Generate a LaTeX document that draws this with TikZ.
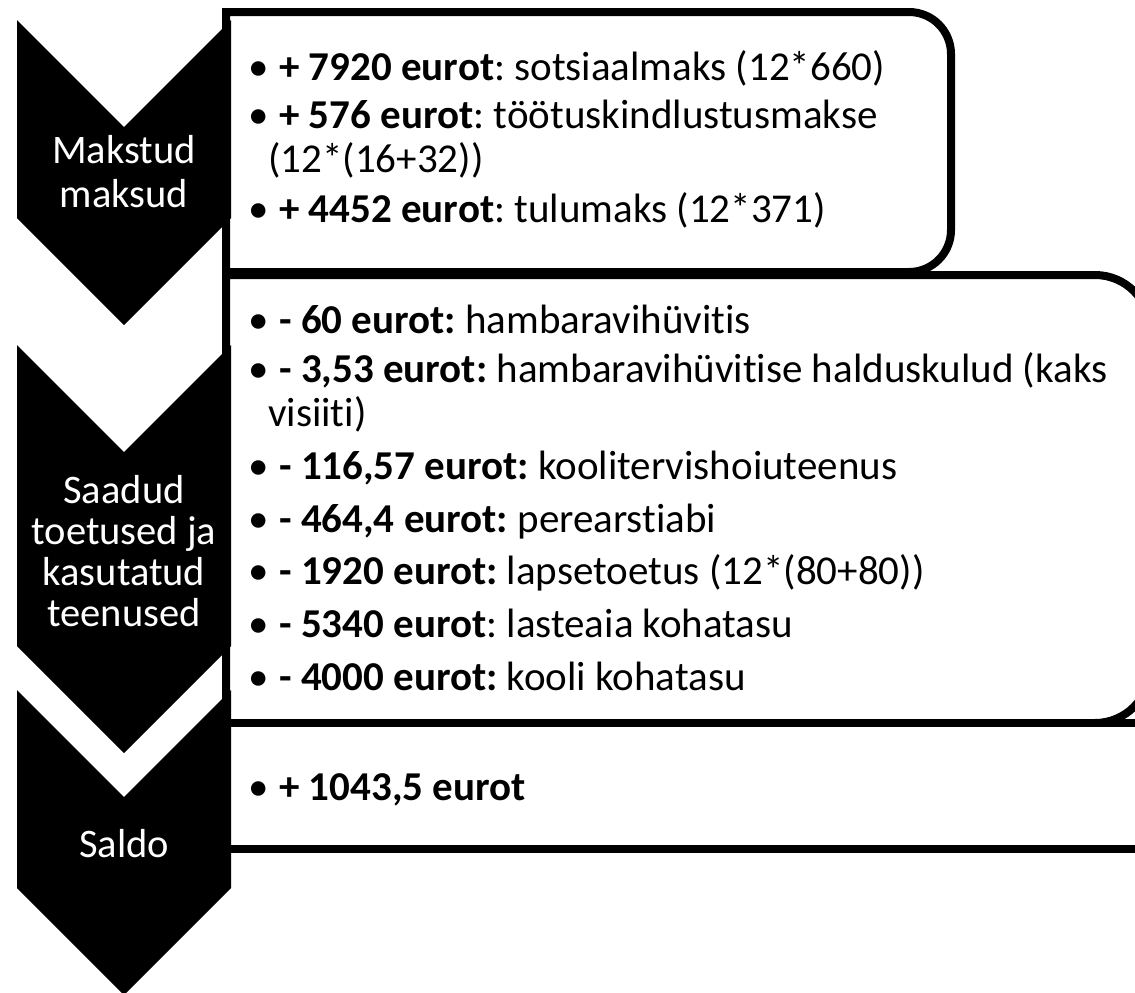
\documentclass[tikz,border=0pt]{standalone}
\usepackage{fontspec}
\setmainfont{Carlito}[Ligatures = NoCommon]
\usepackage{tikz}
\frenchspacing

\newcommand{\blt}{\makebox[31pt][l]{•}}

\begin{document}
\begin{tikzpicture} [
    x = 1pt, y = -1pt,
    frame/.style = {draw, line width = 8pt, fill = white},
    chevron/.style = {fill = black},
    label/.style = {text = white, align = center, anchor = base, inner sep = 0pt,
                    font = \fontsize{40.5}{44}\selectfont},
    item/.style = {anchor = base west, inner sep = 0pt,
                   font = \fontsize{41}{44}\selectfont}
]

\clip (0,0) rectangle (1135,993);
\fill [white] (0,0) rectangle (1135,993);

% boxes
\draw [frame] (226,12) -- (909,12) arc (-90:0:42) -- (951,230) arc (0:90:42)
    -- (226,272) -- cycle;
\draw [frame] (226,275) -- (1095,275) arc (-90:0:55) -- (1150,668) arc (0:90:55)
    -- (226,723) -- cycle;
\draw [frame] (226,723) rectangle (1200,849);

% chevrons
\fill [chevron] (17,20) -- (124,127) -- (231,20) -- (231,218) -- (124,325) -- (17,218) -- cycle;
\fill [chevron] (17,345) -- (124,452) -- (231,345) -- (231,646) -- (124,753) -- (17,646) -- cycle;
\fill [chevron] (17,690) -- (124,797) -- (231,690) -- (231,888) -- (124,995) -- (17,888) -- cycle;

% labels
\node (paid1) at (124,163) [label] {Makstud};
\node (paid2) at (124,207) [label] {maksud};
\node (got1) at (124,503) [label] {Saadud};
\node (got2) at (124,544) [label] {toetused ja};
\node (got3) at (124,585) [label] {kasutatud};
\node (got4) at (124,626) [label] {teenused};
\node (saldo) at (124,857) [label] {Saldo};

% paid taxes
\node (tax1) at (248,80) [item] {\blt\textbf{+ 7920 eurot}: sotsiaalmaks (12*660)};
\node (tax2) at (248,128) [item] {\blt\textbf{+ 576 eurot}: töötuskindlustusmakse};
\node (tax2b) at (268,172) [item] {(12*(16+32))};
\node (tax3) at (248,222) [item] {\blt\textbf{+ 4452 eurot}: tulumaks (12*371)};

% benefits and services
\node (ben1) at (248,333) [item] {\blt\textbf{- 60 eurot:} hambaravihüvitis};
\node (ben2) at (248,382) [item] {\blt\textbf{- 3,53 eurot:} hambaravihüvitise halduskulud (kaks};
\node (ben2b) at (268,426) [item] {visiiti)};
\node (ben3) at (248,479) [item] {\blt\textbf{- 116,57 eurot:} koolitervishoiuteenus};
\node (ben4) at (248,532) [item] {\blt\textbf{- 464,4 eurot:} perearstiabi};
\node (ben5) at (248,584) [item] {\blt\textbf{- 1920 eurot:} lapsetoetus (12*(80+80))};
\node (ben6) at (248,637) [item] {\blt\textbf{- 5340 eurot}: lasteaia kohatasu};
\node (ben7) at (248,690) [item] {\blt\textbf{- 4000 eurot:} kooli kohatasu};

% balance
\node (bal) at (248,800) [item] {\blt\textbf{+ 1043,5 eurot}};

\end{tikzpicture}
\end{document}
